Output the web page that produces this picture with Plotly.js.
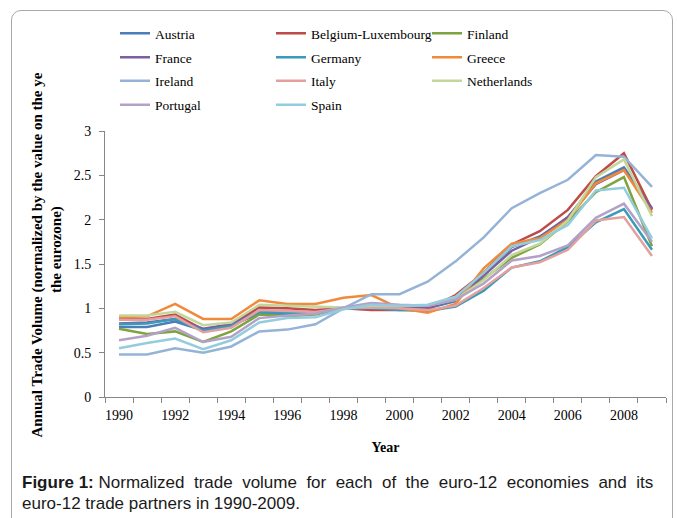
<!DOCTYPE html>
<html>
<head>
<meta charset="utf-8">
<script src="https://cdn.plot.ly/plotly-3.0.1.min.js"></script>
<style>
html, body { margin: 0; padding: 0; background: #ffffff; }
#wrap { position: relative; width: 677px; height: 518px; overflow: hidden; }
#chart { position: absolute; left: 0; top: 0; width: 677px; height: 518px; }
#frame { position: absolute; left: 11px; top: 10px; width: 660px; height: 600px; border: 1px solid #a9a9a9; border-radius: 10px; pointer-events: none; }
</style>
</head>
<body>
<div id="wrap">
  <div id="chart"></div>
  <div id="frame"></div>
</div>
<script>
var years = [1990, 1991, 1992, 1993, 1994, 1995, 1996, 1997, 1998, 1999,
             2000, 2001, 2002, 2003, 2004, 2005, 2006, 2007, 2008, 2009];
var tickYears = [1990, 1992, 1994, 1996, 1998, 2000, 2002, 2004, 2006, 2008];
var tickLabels = ["1990", "1992", "1994", "1996", "1998", "2000", "2002", "2004", "2006", "2008"];
var yTicks = [0, 0.5, 1, 1.5, 2, 2.5, 3];
var yTickLabels = ["0", "0.5", "1", "1.5", "2", "2.5", "3"];

var countries = ["Austria", "Belgium-Luxembourg", "Finland",
                 "France", "Germany", "Greece",
                 "Ireland", "Italy", "Netherlands",
                 "Portugal", "Spain"];

var austria     = [0.79, 0.79, 0.85, 0.75, 0.81, 0.94, 0.94, 0.94, 1.00, 1.02, 1.00, 1.00, 1.08, 1.40, 1.69, 1.81, 2.02, 2.43, 2.59, 2.13];
var belgiumLux  = [0.88, 0.88, 0.93, 0.76, 0.82, 1.01, 1.00, 0.98, 1.00, 0.98, 0.98, 0.99, 1.15, 1.40, 1.72, 1.87, 2.11, 2.49, 2.75, 2.11];
var finland     = [0.77, 0.71, 0.74, 0.62, 0.74, 0.93, 0.91, 0.93, 1.00, 1.01, 1.01, 1.03, 1.10, 1.33, 1.57, 1.72, 1.98, 2.31, 2.48, 1.70];
var france      = [0.83, 0.84, 0.88, 0.77, 0.82, 0.97, 0.97, 0.95, 1.00, 1.00, 1.00, 1.01, 1.10, 1.37, 1.65, 1.80, 2.03, 2.40, 2.56, 2.12];
var germany     = [0.82, 0.83, 0.88, 0.75, 0.80, 0.96, 0.95, 0.94, 1.00, 1.00, 0.98, 0.97, 1.02, 1.20, 1.46, 1.53, 1.69, 1.97, 2.12, 1.66];
var greece      = [0.90, 0.91, 1.05, 0.88, 0.88, 1.09, 1.05, 1.05, 1.12, 1.15, 1.00, 0.95, 1.05, 1.45, 1.73, 1.79, 2.00, 2.41, 2.56, 2.08];
var ireland     = [0.48, 0.48, 0.55, 0.50, 0.57, 0.74, 0.76, 0.82, 1.00, 1.16, 1.16, 1.30, 1.53, 1.80, 2.13, 2.30, 2.45, 2.73, 2.71, 2.37];
var italy       = [0.87, 0.87, 0.91, 0.73, 0.78, 0.98, 0.97, 0.96, 1.00, 1.01, 1.00, 0.98, 1.03, 1.23, 1.46, 1.52, 1.66, 1.99, 2.03, 1.59];
var netherlands = [0.92, 0.92, 0.96, 0.81, 0.84, 1.04, 1.03, 1.02, 1.01, 1.03, 1.03, 1.03, 1.10, 1.32, 1.60, 1.73, 1.99, 2.48, 2.68, 2.04];
var portugal    = [0.64, 0.69, 0.78, 0.62, 0.68, 0.89, 0.92, 0.94, 1.01, 1.06, 1.04, 1.03, 1.10, 1.28, 1.54, 1.59, 1.71, 2.02, 2.18, 1.75];
var spain       = [0.55, 0.61, 0.66, 0.54, 0.64, 0.84, 0.89, 0.90, 0.99, 1.04, 1.03, 1.04, 1.13, 1.40, 1.70, 1.77, 1.94, 2.33, 2.36, 1.79];

var seriesValues = [austria, belgiumLux, finland, france, germany, greece,
                    ireland, italy, netherlands, portugal, spain];

var colors = ["#4a7ebb", "#be4b48", "#7fa33f", "#7d5fa0", "#3a9bb8", "#f08a3a",
              "#95b3d7", "#e3a09e", "#c3d69b", "#b3a2c7", "#93cddd"];

// legend row assignment (3 entries per row)
var legendIds = ["legend", "legend", "legend",
                 "legend2", "legend2", "legend2",
                 "legend3", "legend3", "legend3",
                 "legend4", "legend4"];

var traces = [];
for (var i = 0; i < countries.length; i++) {
  traces.push({
    type: "scatter",
    mode: "lines",
    name: countries[i],
    x: years,
    y: seriesValues[i],
    line: { color: colors[i], width: 2.5 },
    legend: legendIds[i],
    hoverinfo: "x+y+name"
  });
}

var serif = "Liberation Serif, Times New Roman, serif";
var sans = "Liberation Sans, Arial, sans-serif";

function legendRow(topPx) {
  return {
    orientation: "h",
    xref: "container", yref: "container",
    x: 115 / 677, xanchor: "left",
    y: 1 - topPx / 518, yanchor: "top",
    entrywidth: 111,
    entrywidthmode: "pixels",
    font: { family: serif, size: 13.5, color: "#000000" },
    bgcolor: "rgba(0,0,0,0)",
    borderwidth: 0,
    traceorder: "normal"
  };
}

var plotLeft = 105, plotRight = 666, plotTop = 131, plotBottom = 397;
var plotW = plotRight - plotLeft, plotH = plotBottom - plotTop;
function px2x(px) { return (px - plotLeft) / plotW; }
function px2y(py) { return (plotBottom - py) / plotH; }

var NB = "\u00A0";
var captionLine1 = ["Normalized", "trade", "volume", "for", "each", "of", "the", "euro-12", "economies", "and", "its"].join(" " + NB);
var captionLine2 = "euro-12 trade partners in 1990-2009.";

var layout = {
  width: 677,
  height: 518,
  margin: { l: plotLeft, r: 677 - plotRight, t: plotTop, b: 518 - plotBottom, autoexpand: false },
  paper_bgcolor: "rgba(0,0,0,0)",
  plot_bgcolor: "rgba(0,0,0,0)",
  showlegend: true,
  legend: legendRow(18),
  legend2: legendRow(42),
  legend3: legendRow(65.5),
  legend4: legendRow(89.5),
  xaxis: {
    type: "linear",
    range: [1989.5, 2009.5],
    tickmode: "array",
    tickvals: tickYears,
    ticktext: tickLabels,
    ticks: "",
    ticklabelstandoff: 5,
    minor: { tickmode: "linear", tick0: 1989.5, dtick: 1, ticks: "outside", ticklen: 5, tickcolor: "#868686", tickwidth: 1 },
    showgrid: false,
    zeroline: false,
    showline: true,
    linecolor: "#868686",
    linewidth: 1,
    tickfont: { family: serif, size: 14, color: "#000000" },
    title: { text: "<b>Year</b>", font: { family: serif, size: 14, color: "#000000" }, standoff: 20 },
    fixedrange: true
  },
  yaxis: {
    range: [0, 3],
    tickmode: "array",
    tickvals: yTicks,
    ticktext: yTickLabels,
    ticks: "outside",
    ticklen: 5,
    tickcolor: "#868686",
    ticklabelstandoff: 5,
    showgrid: false,
    zeroline: false,
    showline: true,
    linecolor: "#868686",
    linewidth: 1,
    tickfont: { family: serif, size: 14, color: "#000000" },
    fixedrange: true
  },
  annotations: [
    {
      xref: "paper", yref: "paper",
      x: px2x(37), y: px2y(440),
      xanchor: "center", yanchor: "bottom",
      textangle: -90,
      showarrow: false,
      text: "<b>Annual Trade Volume (normalized by the value on the ye</b>",
      font: { family: serif, size: 15, color: "#000000" }
    },
    {
      xref: "paper", yref: "paper",
      x: px2x(56), y: px2y(250),
      xanchor: "center", yanchor: "middle",
      textangle: -90,
      showarrow: false,
      text: "<b>the eurozone)</b>",
      font: { family: serif, size: 15, color: "#000000" }
    },
    {
      xref: "paper", yref: "paper",
      x: px2x(20), y: px2y(482),
      xanchor: "left", yanchor: "middle",
      align: "left",
      showarrow: false,
      text: "<b>Figure 1:</b>" + NB + captionLine1,
      font: { family: sans, size: 17, color: "#1a1a1a" }
    },
    {
      xref: "paper", yref: "paper",
      x: px2x(20), y: px2y(503),
      xanchor: "left", yanchor: "middle",
      align: "left",
      showarrow: false,
      text: captionLine2,
      font: { family: sans, size: 17, color: "#1a1a1a" }
    }
  ]
};

Plotly.newPlot("chart", traces, layout, { displayModeBar: false, staticPlot: true });
</script>
</body>
</html>
